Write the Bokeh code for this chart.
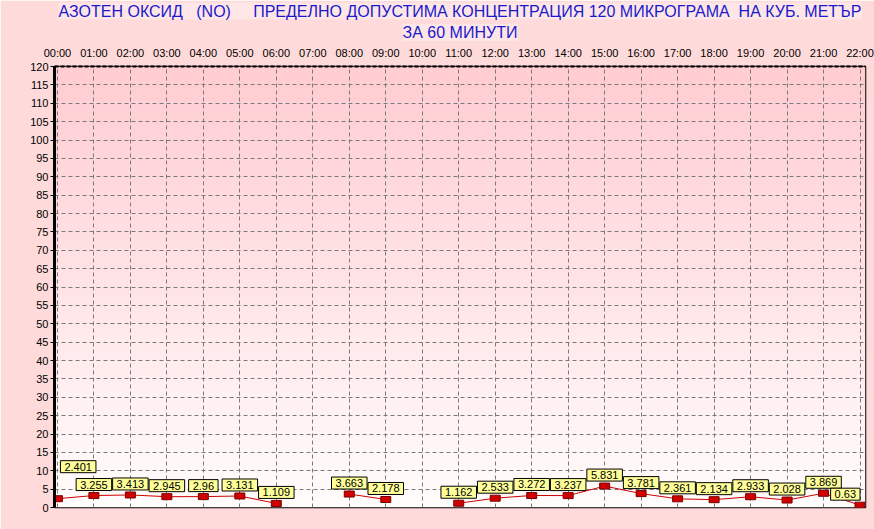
import numpy as np
from bokeh.plotting import figure
from bokeh.models import ColumnDataSource, FixedTicker, Label, Range1d, Title
from bokeh.embed import file_html
from bokeh.resources import INLINE

# ---- data -------------------------------------------------------------
hours = list(range(23))
hour_labels = ["00:00", "01:00", "02:00", "03:00", "04:00", "05:00", "06:00",
               "07:00", "08:00", "09:00", "10:00", "11:00", "12:00", "13:00",
               "14:00", "15:00", "16:00", "17:00", "18:00", "19:00", "20:00",
               "21:00", "22:00"]
no_values = [2.401, 3.255, 3.413, 2.945, 2.96, 3.131, 1.109, None, 3.663, 2.178,
             None, 1.162, 2.533, 3.272, 3.237, 5.831, 3.781, 2.361, 2.134, 2.933,
             2.028, 3.869, 0.63]
y_ticks = list(range(0, 121, 5))
NB = "\u00a0"
title_line1 = ("АЗОТЕН ОКСИД" + NB * 3 + "(NO)" + NB * 5 +
               "ПРЕДЕЛНО ДОПУСТИМА КОНЦЕНТРАЦИЯ 120 МИКРОГРАМА" + NB * 2 +
               "НА КУБ. МЕТЪР")
title_line2 = "ЗА 60 МИНУТИ"

FONT = "Liberation Sans"
X0, X1 = -0.08, 22.15
Y0, Y1 = 0, 120

yv = [np.nan if v is None else v for v in no_values]
src = ColumnDataSource(dict(x=hours, y=yv))
pts = ColumnDataSource(dict(x=[h for h, v in zip(hours, no_values) if v is not None],
                            y=[v for v in no_values if v is not None]))

p = figure(width=874, height=529, output_backend="svg", toolbar_location=None,
           x_range=Range1d(X0, X1), y_range=Range1d(Y0, Y1),
           x_axis_location="above",
           min_border_left=54, min_border_right=9, min_border_top=60,
           min_border_bottom=22,
           background_fill_color="#FFF4F4", border_fill_color="#FFDADA")

# title: two centred lines (p.title outermost)
TITLE_KW = dict(align="center", text_font=FONT, text_font_size="16px",
                text_font_style="normal", text_color="#1A1ACC",
                background_fill_color="#FFE6E6")
p.title.text = title_line1
for k, v in TITLE_KW.items():
    setattr(p.title, k, v)
p.title.standoff = 0
p.title.offset = 0
t2 = Title(text=title_line2, standoff=5, **TITLE_KW)
p.add_layout(t2, "above")

# vertical gradient background in the frame
n = 64
t = np.linspace(0, 1, n)  # 0 bottom -> 1 top
rgba = np.zeros((n, 2, 4), dtype=np.uint8)
top_c = np.array([255, 205, 210])
bot_c = np.array([255, 252, 252])
for i in range(n):
    c = bot_c + (top_c - bot_c) * t[i]
    rgba[i, :, 0:3] = c.astype(np.uint8)
    rgba[i, :, 3] = 255
img = rgba.view(dtype=np.uint32).reshape((n, 2))
bg = p.image_rgba(image=[img], x=X0, y=Y0, dw=X1 - X0, dh=Y1 - Y0)
bg.level = "image"

# axes
xa = p.xaxis[0]
xa.ticker = FixedTicker(ticks=hours)
xa.major_label_overrides = {h: l for h, l in zip(hours, hour_labels)}
xa.major_label_text_font = FONT
xa.major_label_text_font_size = "11px"
xa.major_label_text_color = "black"
xa.major_tick_out = 0
xa.major_tick_in = 0
xa.minor_tick_out = 0
xa.minor_tick_in = 0
xa.axis_line_color = "black"
xa.axis_line_width = 2
xa.axis_line_dash = "4 2"
xa.major_label_standoff = 8

ya = p.yaxis[0]
ya.ticker = FixedTicker(ticks=y_ticks)
ya.major_label_text_font = FONT
ya.major_label_text_font_size = "11px"
ya.major_label_text_color = "black"
ya.major_tick_out = 4
ya.major_tick_in = 0
ya.minor_tick_out = 0
ya.minor_tick_in = 0
ya.major_tick_line_color = "black"
ya.axis_line_color = "black"
ya.axis_line_width = 3
ya.major_label_standoff = 2

for g, tk in ((p.xgrid[0], hours), (p.ygrid[0], y_ticks)):
    g.ticker = FixedTicker(ticks=tk)
    g.grid_line_color = "#7A7A7A"
    g.grid_line_dash = "4 3"
    g.grid_line_width = 1

p.outline_line_color = "black"
p.outline_line_width = 1.5

# series
p.line("x", "y", source=src, line_color="#CC0000", line_width=1)
p.rect("x", "y", source=pts, width=10, height=6, width_units="screen",
       height_units="screen", fill_color="#D00000", line_color="#7A0000")

first_h, last_h = hours[0], hours[-1]
for h, v in zip(hours, no_values):
    if v is None:
        continue
    align, xo, yo = "center", 0, 5
    if h == first_h:          # keep edge labels inside the frame
        align, xo, yo = "left", 3, 26
    elif h == last_h:
        align, xo = "right", 0
    p.add_layout(Label(x=h, y=v, text="%g" % v, text_align=align, x_offset=xo,
                       text_baseline="bottom", y_offset=yo, text_font=FONT,
                       text_font_size="11px", text_color="black",
                       background_fill_color="#FFFF99", border_line_color="black",
                       border_line_width=1, padding=dict(x=4, y=2)))

open("out.html", "w").write(file_html(p, INLINE))
